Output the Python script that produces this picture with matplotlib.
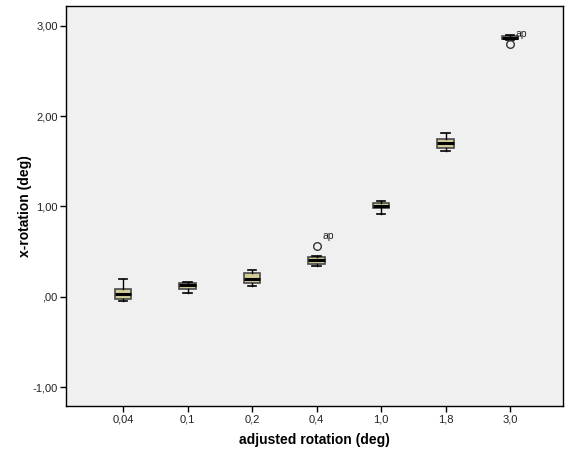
import matplotlib.pyplot as plt

# groups on the x axis
categories = ["0,04", "0,1", "0,2", "0,4", "1,0", "1,8", "3,0"]

# five-number summaries per group (x-rotation, deg)
whisker_low = [-0.045, 0.037, 0.122, 0.343, 0.911, 1.617, 2.845]
q1 = [-0.025, 0.085, 0.152, 0.362, 0.978, 1.650, 2.850]
median = [0.025, 0.130, 0.196, 0.406, 1.008, 1.698, 2.870]
q3 = [0.090, 0.147, 0.258, 0.443, 1.037, 1.746, 2.890]
whisker_high = [0.196, 0.158, 0.300, 0.450, 1.055, 1.816, 2.898]

# flagged outliers (group index, value, case label)
outlier_group = [3, 6]
outlier_value = [0.565, 2.800]
outlier_label = ["ap", "ap"]

plt.rcParams["font.family"] = ["Liberation Sans", "DejaVu Sans"]

stats = []
for i in range(len(categories)):
    fl = [v for g, v in zip(outlier_group, outlier_value) if g == i]
    stats.append({
        "whislo": whisker_low[i], "q1": q1[i], "med": median[i],
        "q3": q3[i], "whishi": whisker_high[i], "fliers": fl,
    })

fig = plt.figure(figsize=(5.68, 4.5), dpi=100)
ax = fig.add_axes([66 / 568, 44 / 450, 497 / 568, 400 / 450])
ax.set_facecolor("#f0f0f0")

positions = list(range(1, len(categories) + 1))
ax.bxp(stats, positions=positions, widths=0.26, patch_artist=True,
       boxprops=dict(facecolor="#d2cc98", edgecolor="#4a4a4a", linewidth=1.2),
       medianprops=dict(color="black", linewidth=2.2),
       whiskerprops=dict(color="black", linewidth=1),
       capprops=dict(color="black", linewidth=1.2),
       flierprops=dict(marker="o", markerfacecolor="none",
                       markeredgecolor="#333333", markersize=5.5))

for g, v, lab in zip(outlier_group, outlier_value, outlier_label):
    ax.annotate(lab, (positions[g], v), xytext=(4, 5), textcoords="offset points",
                fontsize=7.5, color="#222222")

ax.set_xlim(0.116, 7.82)
ax.set_ylim(-1.21, 3.22)
ax.set_yticks([-1, 0, 1, 2, 3])
ax.set_yticklabels(["-1,00", ",00", "1,00", "2,00", "3,00"])
ax.set_xticks(positions)
ax.set_xticklabels(categories)
ax.tick_params(labelsize=8, length=4.5, width=1, pad=1.5, color="black", labelcolor="#222222")

for s in ax.spines.values():
    s.set_color("black")
    s.set_linewidth(1)

ax.set_xlabel("adjusted rotation (deg)", fontsize=10, fontweight="bold", labelpad=6)
ax.set_ylabel("x-rotation (deg)", fontsize=10, fontweight="bold", labelpad=0)

fig.savefig("out.png", dpi=100)
